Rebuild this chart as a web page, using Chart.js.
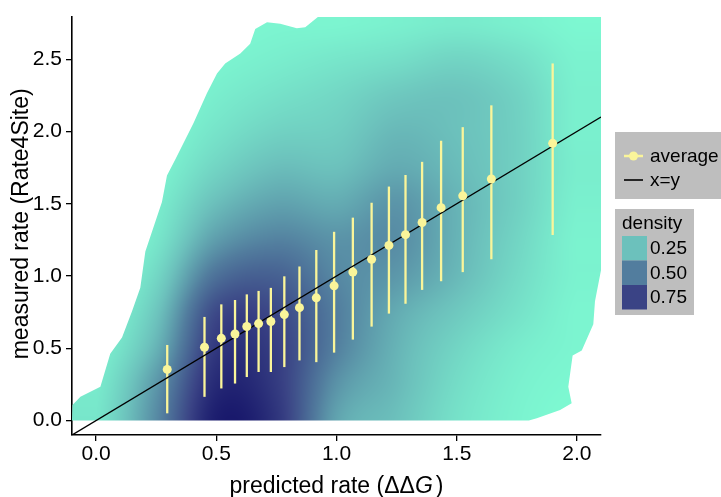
<!DOCTYPE html>
<html>
<head>
<meta charset="utf-8">
<script src="https://cdn.jsdelivr.net/npm/chart.js@4.4.1/dist/chart.umd.min.js"></script>
<style>
  html, body { margin: 0; padding: 0; background: #fff; }
  #wrap { width: 721px; height: 497px; }
</style>
</head>
<body>
<div id="wrap"><canvas id="rateChart" width="721" height="497"></canvas></div>
<script>
// binned averages: predicted rate vs measured rate, with spread per bin
var predicted = [0.296, 0.451, 0.521, 0.578, 0.627, 0.676, 0.727, 0.783, 0.846, 0.916,
                 0.990, 1.068, 1.146, 1.218, 1.287, 1.356, 1.435, 1.525, 1.644, 1.899];
var measured  = [0.354, 0.507, 0.569, 0.599, 0.651, 0.671, 0.685, 0.733, 0.781, 0.849,
                 0.932, 1.027, 1.116, 1.212, 1.286, 1.370, 1.473, 1.555, 1.671, 1.918];
var lowerBar  = [0.050, 0.164, 0.222, 0.256, 0.301, 0.336, 0.336, 0.370, 0.416, 0.404,
                 0.470, 0.560, 0.650, 0.740, 0.808, 0.904, 0.964, 1.027, 1.116, 1.284];
var upperBar  = [0.523, 0.717, 0.804, 0.834, 0.873, 0.897, 0.918, 0.998, 1.066, 1.180,
                 1.306, 1.404, 1.507, 1.619, 1.699, 1.790, 1.936, 2.030, 2.181, 2.471];

var xRange = [-0.1, 2.1];
var yRange = [-0.1, 2.795];
var xTicks = [0, 0.5, 1, 1.5, 2];
var yTicks = [0, 0.5, 1, 1.5, 2, 2.5];

// 2d density of all sites, sampled on a regular grid (rows = measured, cols = predicted)
var gridX = [0, 0.25, 0.5, 0.75, 1.0, 1.25, 1.5, 1.75, 2.0];
var gridY = [0, 0.25, 0.5, 0.75, 1.0, 1.25, 1.5, 1.75, 2.0, 2.25, 2.5, 2.75];
var densityGrid = [
  [0.10, 0.45, 0.93, 0.82, 0.36, 0.25, 0.12, 0.05, 0.02],
  [0.08, 0.40, 0.87, 0.79, 0.42, 0.28, 0.14, 0.06, 0.03],
  [0.05, 0.30, 0.80, 0.77, 0.49, 0.30, 0.17, 0.08, 0.04],
  [0.03, 0.23, 0.72, 0.72, 0.50, 0.33, 0.22, 0.12, 0.04],
  [0.02, 0.16, 0.55, 0.62, 0.46, 0.40, 0.28, 0.15, 0.05],
  [0.01, 0.10, 0.38, 0.48, 0.42, 0.44, 0.30, 0.17, 0.05],
  [0.01, 0.07, 0.26, 0.36, 0.33, 0.41, 0.30, 0.19, 0.06],
  [0.00, 0.04, 0.17, 0.26, 0.25, 0.33, 0.27, 0.19, 0.07],
  [0.00, 0.02, 0.11, 0.18, 0.20, 0.28, 0.25, 0.19, 0.06],
  [0.00, 0.01, 0.07, 0.12, 0.16, 0.22, 0.24, 0.18, 0.06],
  [0.00, 0.01, 0.04, 0.07, 0.10, 0.13, 0.17, 0.13, 0.05],
  [0.00, 0.00, 0.02, 0.04, 0.04, 0.06, 0.08, 0.06, 0.03]
];

// outline of the region where the density is drawn
var outlineX = [-0.1, -0.098, -0.065, 0.018, 0.059, 0.108, 0.150, 0.184, 0.205, 0.274, 0.295,
                0.330, 0.406, 0.461, 0.503, 0.537, 0.600, 0.641, 0.662, 0.711, 0.766, 0.835,
                0.870, 0.925, 0.94, 2.3, 2.3, 2.103, 2.075, 2.068, 2.020, 1.982, 1.964, 1.978,
                1.930, 1.833, 1.80];
var outlineY = [0, 0.108, 0.164, 0.233, 0.462, 0.575, 0.758, 0.918, 1.169, 1.512, 1.695,
                1.808, 2.060, 2.265, 2.402, 2.471, 2.540, 2.608, 2.710, 2.756, 2.745, 2.715,
                2.722, 2.795, 3.0, 3.0, 1.15, 1.066, 0.826, 0.667, 0.484, 0.450, 0.233, 0.119,
                0.073, 0.016, 0];

// fill scale for density
var densityStops = [0, 0.25, 0.5, 0.75, 0.95];
var densityColours = [[127, 255, 212], [108, 193, 188], [82, 125, 158], [58, 67, 133], [25, 25, 108]];
var legendBreaks = [0.25, 0.5, 0.75];

var yellow = '#FAF59A';
var fontFamily = '"Liberation Sans", Arial, Helvetica, sans-serif';

function clamp(v, lo, hi) { return v < lo ? lo : (v > hi ? hi : v); }

function catmull(p0, p1, p2, p3, t) {
    return p1 + 0.5 * t * (p2 - p0 + t * (2 * p0 - 5 * p1 + 4 * p2 - p3 + t * (3 * (p1 - p2) + p3 - p0)));
}

function gridAt(i, j) {
    i = clamp(i, 0, gridX.length - 1);
    j = clamp(j, 0, gridY.length - 1);
    return densityGrid[j][i];
}

function sampleDensity(vx, vy) {
    var fx = clamp((vx - gridX[0]) / (gridX[1] - gridX[0]), 0, gridX.length - 1);
    var fy = clamp((vy - gridY[0]) / (gridY[1] - gridY[0]), 0, gridY.length - 1);
    var ix = Math.floor(fx), iy = Math.floor(fy);
    var tx = fx - ix, ty = fy - iy;
    var col = [];
    for (var m = -1; m <= 2; m++) {
        col.push(catmull(gridAt(ix - 1, iy + m), gridAt(ix, iy + m), gridAt(ix + 1, iy + m), gridAt(ix + 2, iy + m), tx));
    }
    return catmull(col[0], col[1], col[2], col[3], ty);
}

function densityColour(d) {
    d = clamp(d, 0, densityStops[densityStops.length - 1]);
    for (var k = 1; k < densityStops.length; k++) {
        if (d <= densityStops[k]) {
            var t = (d - densityStops[k - 1]) / (densityStops[k] - densityStops[k - 1]);
            var a = densityColours[k - 1], b = densityColours[k];
            return [a[0] + (b[0] - a[0]) * t, a[1] + (b[1] - a[1]) * t, a[2] + (b[2] - a[2]) * t];
        }
    }
    return densityColours[densityColours.length - 1];
}

var densityPlugin = {
    id: 'densityLayer',
    beforeDatasetsDraw: function(chart) {
        var ctx = chart.ctx, a = chart.chartArea;
        var xs = chart.scales.x, ys = chart.scales.y;
        var w = Math.ceil(a.right - a.left), h = Math.ceil(a.bottom - a.top);

        var off = document.createElement('canvas');
        off.width = w; off.height = h;
        var octx = off.getContext('2d');
        var img = octx.createImageData(w, h);
        for (var j = 0; j < h; j++) {
            var vy = ys.getValueForPixel(a.top + j + 0.5);
            for (var i = 0; i < w; i++) {
                var vx = xs.getValueForPixel(a.left + i + 0.5);
                var c = densityColour(sampleDensity(vx, vy));
                var p = (j * w + i) * 4;
                img.data[p] = c[0]; img.data[p + 1] = c[1]; img.data[p + 2] = c[2]; img.data[p + 3] = 255;
            }
        }
        octx.putImageData(img, 0, 0);

        ctx.save();
        ctx.beginPath();
        ctx.rect(a.left, a.top, a.right - a.left, a.bottom - a.top);
        ctx.clip();
        ctx.beginPath();
        for (var k = 0; k < outlineX.length; k++) {
            var px = xs.getPixelForValue(outlineX[k]), py = ys.getPixelForValue(outlineY[k]);
            if (k === 0) ctx.moveTo(px, py); else ctx.lineTo(px, py);
        }
        ctx.closePath();
        ctx.clip();
        ctx.drawImage(off, a.left, a.top);
        ctx.restore();

        // error bars under the points
        ctx.save();
        ctx.strokeStyle = yellow;
        ctx.lineWidth = 2.3;
        for (var n = 0; n < predicted.length; n++) {
            var bx = xs.getPixelForValue(predicted[n]);
            ctx.beginPath();
            ctx.moveTo(bx, ys.getPixelForValue(lowerBar[n]));
            ctx.lineTo(bx, ys.getPixelForValue(upperBar[n]));
            ctx.stroke();
        }
        ctx.restore();
    },
    afterDraw: function(chart) {
        var ctx = chart.ctx, a = chart.chartArea;
        ctx.save();
        ctx.fillStyle = '#000';
        ctx.textBaseline = 'middle';

        // axis titles
        ctx.font = '23px ' + fontFamily;
        var t1 = 'predicted rate (\u0394\u0394', t2 = 'G', t3 = ')';
        var w1 = ctx.measureText(t1).width, w3 = ctx.measureText(t3).width;
        ctx.font = 'italic 23px ' + fontFamily;
        var w2 = ctx.measureText(t2).width + 3;
        var sx = (a.left + a.right) / 2 - (w1 + w2 + w3) / 2;
        ctx.textAlign = 'left';
        ctx.font = '23px ' + fontFamily;
        ctx.fillText(t1, sx, 487);
        ctx.font = 'italic 23px ' + fontFamily;
        ctx.fillText(t2, sx + w1, 487);
        ctx.font = '23px ' + fontFamily;
        ctx.fillText(t3, sx + w1 + w2, 487);

        ctx.save();
        ctx.translate(22, (a.top + a.bottom) / 2 - 2);
        ctx.rotate(-Math.PI / 2);
        ctx.textAlign = 'center';
        ctx.fillText('measured rate (Rate4Site)', 0, 0);
        ctx.restore();

        // legend: points and line
        ctx.fillStyle = '#BEBEBE';
        ctx.fillRect(615, 132, 106, 67);
        ctx.strokeStyle = yellow;
        ctx.lineWidth = 2.5;
        ctx.beginPath(); ctx.moveTo(624, 156); ctx.lineTo(643, 156); ctx.stroke();
        ctx.fillStyle = yellow;
        ctx.beginPath(); ctx.arc(633.5, 156, 4.5, 0, Math.PI * 2); ctx.fill();
        ctx.strokeStyle = '#000';
        ctx.lineWidth = 1.6;
        ctx.beginPath(); ctx.moveTo(624, 180); ctx.lineTo(643, 180); ctx.stroke();
        ctx.fillStyle = '#000';
        ctx.font = '19px ' + fontFamily;
        ctx.textAlign = 'left';
        ctx.fillText('average', 650, 157);
        ctx.fillText('x=y', 650, 181);

        // legend: density fill
        ctx.fillStyle = '#BEBEBE';
        ctx.fillRect(615, 209, 79, 106);
        ctx.fillStyle = '#000';
        ctx.fillText('density', 622, 224);
        for (var k = 0; k < legendBreaks.length; k++) {
            var c = densityColour(legendBreaks[k]);
            ctx.fillStyle = 'rgb(' + Math.round(c[0]) + ',' + Math.round(c[1]) + ',' + Math.round(c[2]) + ')';
            ctx.fillRect(622, 236 + k * 24.5, 25, 24.5);
            ctx.fillStyle = '#000';
            ctx.fillText(legendBreaks[k].toFixed(2), 650, 249 + k * 24.3);
        }
        ctx.restore();
    }
};

var averagePoints = predicted.map(function(v, i) { return { x: v, y: measured[i] }; });
var diagonal = [{ x: xRange[0], y: xRange[0] }, { x: xRange[1], y: xRange[1] }];

var ctx = document.getElementById('rateChart').getContext('2d');
var rateChart = new Chart(ctx, {
    data: {
        datasets: [
            {
                type: 'line',
                label: 'x=y',
                data: diagonal,
                borderColor: '#000',
                borderWidth: 1.4,
                pointRadius: 0,
                order: 2
            },
            {
                type: 'scatter',
                label: 'average',
                data: averagePoints,
                backgroundColor: yellow,
                borderWidth: 0,
                pointRadius: 4.5,
                order: 1
            }
        ]
    },
    options: {
        responsive: false,
        animation: false,
        layout: { padding: { top: 13, right: 120, left: 0, bottom: 0 } },
        plugins: {
            legend: { display: false },
            tooltip: { enabled: false }
        },
        scales: {
            x: {
                type: 'linear',
                min: xRange[0],
                max: xRange[1],
                afterFit: function(s) { s.height = 62; },
                afterBuildTicks: function(s) { s.ticks = xTicks.map(function(v) { return { value: v }; }); },
                border: { display: true, color: '#000', width: 1.6 },
                grid: { drawOnChartArea: false, drawTicks: true, tickLength: 6, color: '#000', lineWidth: 1.3 },
                ticks: {
                    color: '#000',
                    padding: 1,
                    font: { family: fontFamily, size: 21 },
                    callback: function(v) { return v.toFixed(1); }
                }
            },
            y: {
                type: 'linear',
                min: yRange[0],
                max: yRange[1],
                afterFit: function(s) { s.width = 72; },
                afterBuildTicks: function(s) { s.ticks = yTicks.map(function(v) { return { value: v }; }); },
                border: { display: true, color: '#000', width: 1.6 },
                grid: { drawOnChartArea: false, drawTicks: true, tickLength: 6, color: '#000', lineWidth: 1.3 },
                ticks: {
                    color: '#000',
                    padding: 4,
                    font: { family: fontFamily, size: 21 },
                    callback: function(v) { return v.toFixed(1); }
                }
            }
        }
    },
    plugins: [densityPlugin]
});
</script>
</body>
</html>
